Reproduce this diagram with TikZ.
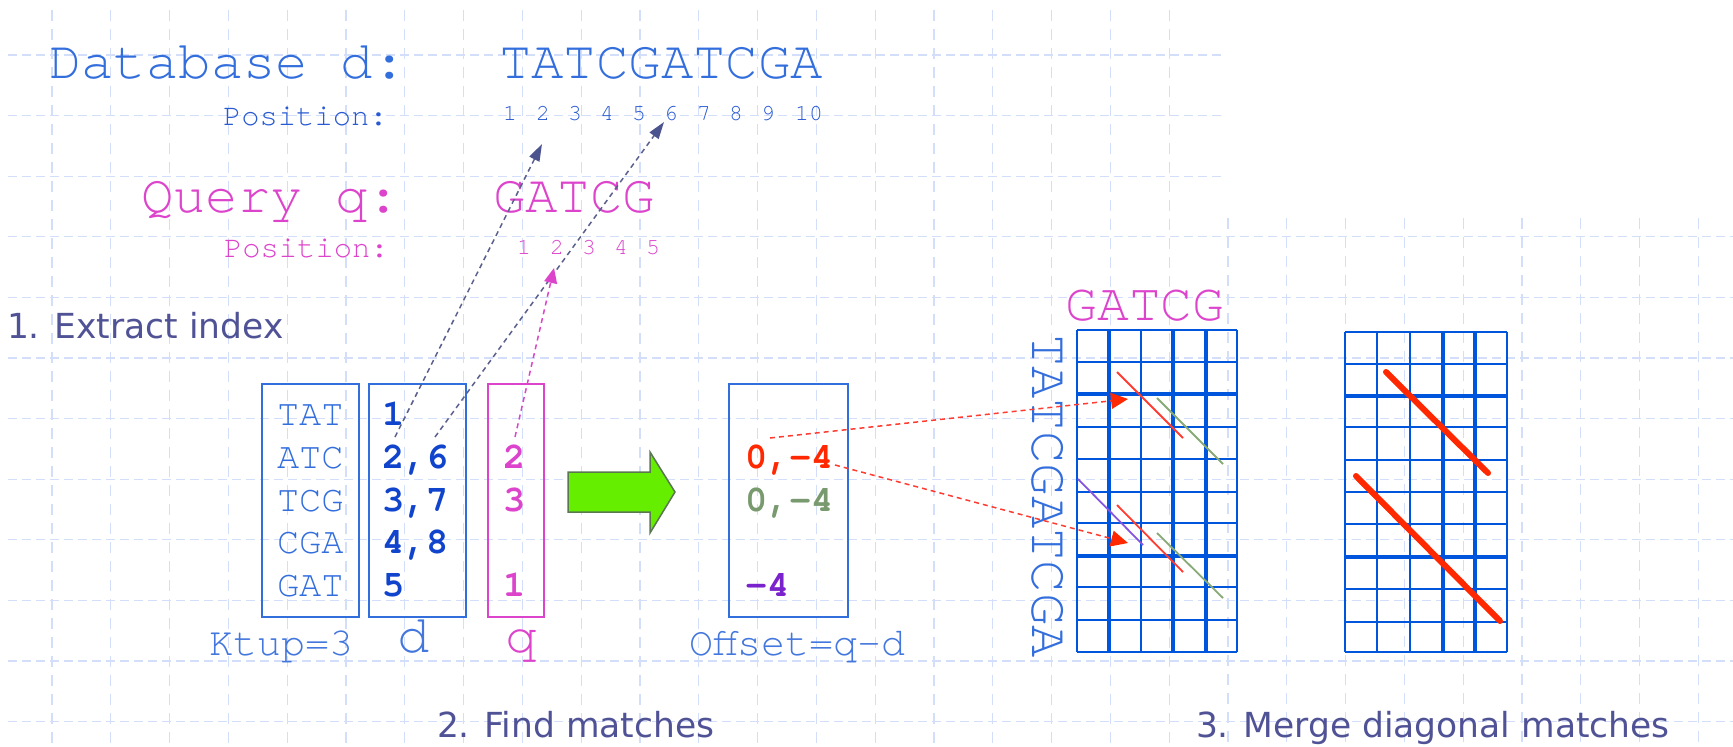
\documentclass[tikz,border=0pt]{standalone}
\usepackage{fontspec}
\usetikzlibrary{arrows.meta}
\newfontfamily\mycour{TeX Gyre Cursor}
\newfontfamily\mysans{DejaVu Sans}
\newcommand{\fsz}[1]{\fontsize{#1}{#1}\selectfont}
\definecolor{dbblue}{RGB}{51,110,221}
\definecolor{capblue}{RGB}{68,119,221}
\definecolor{posblue}{RGB}{40,90,210}
\definecolor{qmag}{RGB}{221,68,204}
\definecolor{boldblue}{RGB}{17,68,204}
\definecolor{ttlcol}{RGB}{80,82,150}
\definecolor{gridbg}{RGB}{210,222,250}
\definecolor{gridblue}{RGB}{0,85,221}
\definecolor{offred}{RGB}{255,40,0}
\definecolor{offgreen}{RGB}{120,154,110}
\definecolor{offpurple}{RGB}{122,34,204}
\definecolor{arrgreen}{RGB}{102,238,0}
\definecolor{arrgreenedge}{RGB}{90,120,80}
\definecolor{arrslate}{RGB}{76,84,144}
\definecolor{lineslate}{RGB}{92,96,140}
\definecolor{diagred}{RGB}{255,60,50}
\definecolor{diaggreen}{RGB}{136,170,119}
\definecolor{diagpurple}{RGB}{136,85,221}
\begin{document}
\begin{tikzpicture}[x=1pt,y=-1pt,
  txt/.style={inner sep=0pt, outer sep=0pt, anchor=base west},
  ctxt/.style={inner sep=0pt, outer sep=0pt, anchor=base},
  bgh/.style={draw=gridbg, line width=1.3pt, dash pattern=on 9pt off 5pt},
  bgv/.style={draw=gridbg, line width=1.3pt, dash pattern=on 11pt off 8pt},
  tbox/.style={draw=dbblue, line width=2pt, inner sep=0pt, minimum height=233pt},
  bignum/.style={txt, font=\mycour\bfseries\fsz{37}},
  kmer/.style={txt, font=\mycour\fsz{37}, text=dbblue},
  slatearrow/.style={draw=lineslate, line width=1.5pt, dash pattern=on 5pt off 4pt,
    -{Triangle[length=17pt,width=11pt,color=arrslate]}},
  magarrow/.style={draw=qmag, line width=1.5pt, dash pattern=on 5pt off 4pt,
    -{Triangle[length=15pt,width=13pt,color=qmag]}},
  redarrow/.style={draw=diagred, line width=1.5pt, dash pattern=on 5pt off 4pt,
    -{Triangle[length=17pt,width=16pt,color=offred]}},
  gthin/.style={draw=gridblue, line width=1.8pt},
  gthick/.style={draw=gridblue, line width=3.4pt}
]
\useasboundingbox (0,0) rectangle (1733,747);
\fill[white] (0,0) rectangle (1733,747);

% background grid
\foreach \k in {0,...,19} \draw[bgv] ({52+58.8*\k},10) -- ({52+58.8*\k},747);
\foreach \k in {20,...,28} \draw[bgv] ({52+58.8*\k},218) -- ({52+58.8*\k},747);
\foreach \j in {0,1,2} \draw[bgh] (8,{55+60.6*\j}) -- (1223,{55+60.6*\j});
\foreach \j in {3,...,11} \draw[bgh] (8,{55+60.6*\j}) -- (1733,{55+60.6*\j});

% top: database and query
\node[txt, text=dbblue, font=\mycour\fsz{54}] (dblabel) at (49,78) {Database d:};
\node[txt, text=dbblue, font=\mycour\fsz{54}] (dbseq) at (499,78) {TATCGATCGA};
\node[txt, text=posblue, font=\mycour\fsz{30.5}] (dbpos) at (223,125) {Position:};
\foreach \i/\x in {1/510,2/543,3/575,4/607,5/639,6/671,7/704,8/736,9/768,10/809}
  \node[ctxt, text=posblue, font=\mycour\fsz{23}] (dp\i) at (\x,120) {\i};

\node[txt, text=qmag, font=\mycour\fsz{54}] (qlabel) at (141,212) {Query q:};
\node[txt, text=qmag, font=\mycour\fsz{54}] (qseq) at (493,212) {GATCG};
\node[txt, text=qmag, font=\mycour\fsz{30.5}] (qpos) at (224,257) {Position:};
\foreach \i/\x in {1/524,2/557,3/589,4/621,5/653}
  \node[ctxt, text=qmag, font=\mycour\fsz{23}] (qp\i) at (\x,254) {\i};

% titles
\node[txt, text=ttlcol, font=\mysans\fsz{34.5}] (t1) at (7,338) {1. Extract index};
\node[txt, text=ttlcol, font=\mysans\fsz{34.5}] (t2) at (437,737) {2. Find matches};
\node[txt, text=ttlcol, font=\mysans\fsz{34.5}] (t3) at (1196,737) {3. Merge diagonal matches};

% index table
\node[tbox, minimum width=97pt] (kbox) at (310.5,500.5) {};
\node[tbox, minimum width=97pt] (dbox) at (417.5,500.5) {};
\node[tbox, draw=qmag, minimum width=56pt] (qbox) at (516,500.5) {};
\node[tbox, minimum width=119pt] (obox) at (788.5,500.5) {};

\foreach \n/\s/\y in {1/TAT/425,2/ATC/468,3/TCG/511,4/CGA/553,5/GAT/596}
  \node[kmer] (km\n) at (277,\y) {\s};
\foreach \n/\s/\y in {1/1/425,2/{2,6}/468,3/{3,7}/511,4/{4,8}/553,5/5/596}
  \node[bignum, text=boldblue] (dn\n) at (382,\y) {\s};
\node[bignum, text=qmag, anchor=base] (qn2) at (514.5,468) {2};
\node[bignum, text=qmag, anchor=base] (qn3) at (514.5,511) {3};
\node[bignum, text=qmag, anchor=base] (qn5) at (514.5,596) {1};

\node[bignum, text=offred] (on2) at (745,468) {0,-4};
\node[bignum, text=offgreen] (on3) at (745,511) {0,-4};
\node[bignum, text=offpurple] (on5) at (745,596) {-4};

\node[txt, text=capblue, font=\mycour\fsz{40}] (ktup) at (209,655) {Ktup=3};
\node[ctxt, text=capblue, font=\mycour\fsz{54}] (dcap) at (414,652) {d};
\node[ctxt, text=qmag, font=\mycour\fsz{53}] (qcap) at (521,652) {q};
\node[txt, text=capblue, font=\mycour\fsz{40}] (ocap) at (689,655) {Offset=q-d};

% green block arrow
\draw[fill=arrgreen, draw=arrgreenedge, line width=1.5pt]
  (568,472) -- (650,472) -- (650,452) -- (675,492) -- (650,533) -- (650,512) -- (568,512) -- cycle;

% dashed arrows from index to positions
\coordinate (a1s) at (395,437);
\coordinate (a1e) at (542,144);
\coordinate (a2s) at (435,437);
\coordinate (a2e) at (664,122);
\coordinate (a3s) at (515,437);
\coordinate (a3e) at (554,268);
\draw[slatearrow] (a1s) -- (a1e);
\draw[slatearrow] (a2s) -- (a2e);
\draw[magarrow] (a3s) -- (a3e);

% dot-plot grid 1
\node[ctxt, text=qmag, font=\mycour\fsz{53}] (g1q) at (1145,320) {GATCG};
\node[txt, text=dbblue, font=\mycour\fsz{54}, rotate=-90] (g1d) at (1032,334) {TATCGATCGA};
\foreach \x in {1077,1141,1237} \draw[gthin] (\x,330) -- (\x,652);
\foreach \x in {1109,1173,1206} \draw[gthick] (\x,330) -- (\x,652);
\foreach \y in {330,362,427,459,492,523,587,620,652} \draw[gthin] (1077,\y) -- (1237,\y);
\foreach \y in {394,556} \draw[gthick] (1077,\y) -- (1237,\y);

\draw[diagred, line width=1.8pt] (1117,372) -- (1183,438);
\draw[diaggreen, line width=1.8pt] (1157,398) -- (1223,464);
\draw[diagpurple, line width=1.8pt] (1078,479) -- (1143,545);
\draw[diagred, line width=1.8pt] (1117,505) -- (1183,572);
\draw[diaggreen, line width=1.8pt] (1157,533) -- (1223,598);

% red dashed arrows from offsets to grid
\coordinate (r1s) at (770,438);
\coordinate (r1e) at (1128,399);
\coordinate (r2s) at (835,465);
\coordinate (r2e) at (1128,543);
\draw[redarrow] (r1s) -- (r1e);
\draw[redarrow] (r2s) -- (r2e);

% dot-plot grid 2
\foreach \x in {1345,1377,1410,1507} \draw[gthin] (\x,332) -- (\x,652);
\foreach \x in {1443,1475} \draw[gthick] (\x,332) -- (\x,652);
\foreach \y in {332,364,427,460,492,524,589,622,652} \draw[gthin] (1345,\y) -- (1507,\y);
\foreach \y in {396,557} \draw[gthick] (1345,\y) -- (1507,\y);

\draw[offred, line width=6pt, line cap=round] (1386,372) -- (1488,473);
\draw[offred, line width=6pt, line cap=round] (1356,476) -- (1500,621);
\end{tikzpicture}
\end{document}
